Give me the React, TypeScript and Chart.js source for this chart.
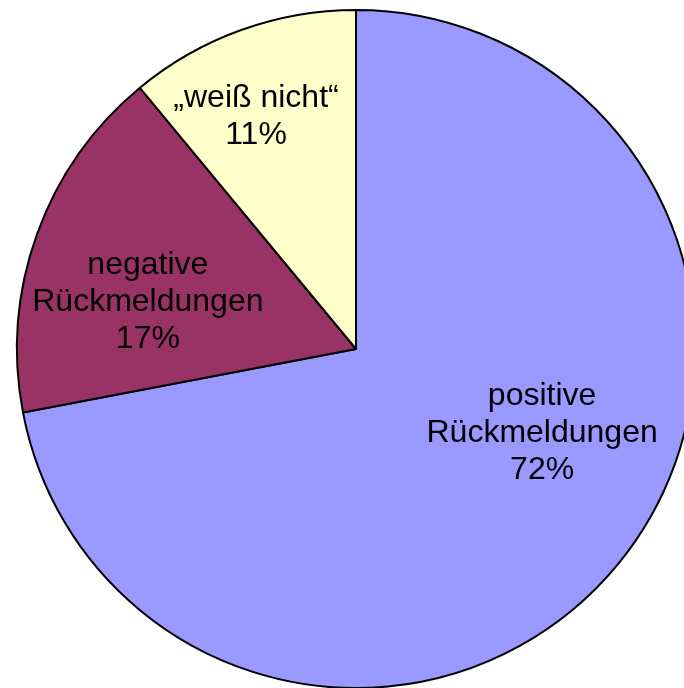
import React, { useEffect, useRef } from "react";
import { Chart, registerables } from "chart.js";

Chart.register(...registerables);

const categories = ["positive Rückmeldungen", "negative Rückmeldungen", "„weiß nicht“"];
const values = [72, 17, 11];
const labelLines = [
  ["positive", "Rückmeldungen", "72%"],
  ["negative", "Rückmeldungen", "17%"],
  ["„weiß nicht“", "11%"],
];
const colors = ["#9999FF", "#993366", "#FFFFCC"];

// label block centres relative to pie centre, in units of the radius
const labelOffsets = [
  [0.549, 0.242],
  [-0.614, -0.145],
  [-0.295, -0.693],
];

const labelPlugin = {
  id: "sliceLabels",
  afterDraw(chart: any) {
    const ctx = chart.ctx;
    const meta = chart.getDatasetMeta(0);
    ctx.save();
    ctx.font = "32px 'Liberation Sans', Arial, sans-serif";
    ctx.fillStyle = "#000";
    ctx.textAlign = "center";
    ctx.textBaseline = "alphabetic";
    meta.data.forEach((arc: any, i: number) => {
      const { x, y, outerRadius } = arc.getProps(["x", "y", "outerRadius"], true);
      const cx = x + labelOffsets[i][0] * outerRadius;
      const cy = y + labelOffsets[i][1] * outerRadius;
      const lines = labelLines[i];
      const n = lines.length;
      lines.forEach((t, j) => {
        ctx.fillText(t, cx, cy + (j - (n - 1) / 2) * 37 + 11);
      });
    });
    ctx.restore();
  },
};

export default function App() {
  const ref = useRef<HTMLCanvasElement>(null);
  useEffect(() => {
    if (!ref.current) return;
    const chart = new Chart(ref.current, {
      type: "pie",
      data: {
        labels: categories,
        datasets: [
          {
            data: values,
            backgroundColor: colors,
            borderColor: "#000",
            borderWidth: 2,
          },
        ],
      },
      options: {
        responsive: false,
        animation: false,
        devicePixelRatio: 1,
        radius: 339,
        layout: { padding: 0 },
        plugins: {
          legend: { display: false },
          tooltip: { enabled: false },
        },
      } as any,
      plugins: [labelPlugin],
    });
    return () => chart.destroy();
  }, []);
  return (
    <div
      style={{
        position: "absolute",
        left: 0,
        top: 0,
        width: 684,
        height: 688,
        overflow: "hidden",
        background: "#fff",
      }}
    >
      <canvas ref={ref} width={712} height={698} style={{ display: "block" }} />
    </div>
  );
}
